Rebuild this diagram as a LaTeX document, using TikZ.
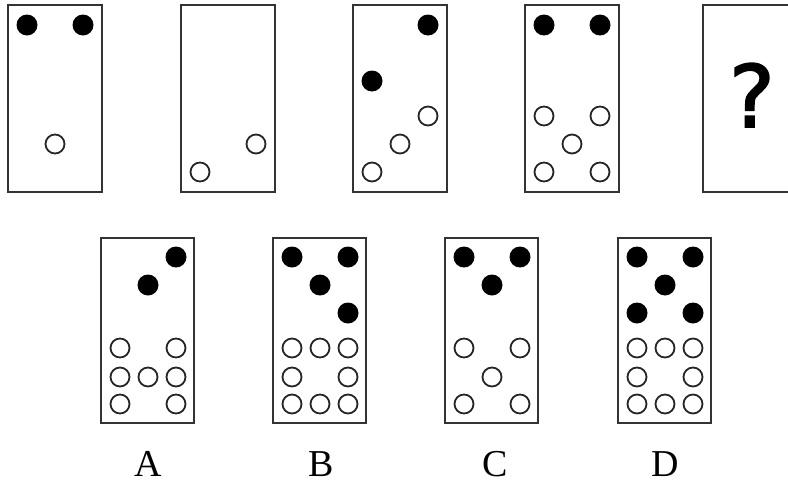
\documentclass[tikz,border=0pt]{standalone}
\usepackage{fontspec}
\setmainfont{Liberation Serif}
\newfontfamily\qfont[FakeBold=2]{DejaVu Sans}
\newcommand\pips[3]{%
  \foreach \c/\y [count=\i] in {#2}
    \node[bdot] (#1b\i) at ([shift={(19+28*\c,\y)}]#1.north west) {};
  \foreach \c/\y [count=\i] in {#3}
    \node[wdot] (#1w\i) at ([shift={(19+28*\c,\y)}]#1.north west) {};}
\begin{document}
\begin{tikzpicture}[x=1pt,y=-1pt,
  card/.style={draw=black!80, line width=1.9pt, minimum width=94pt,
    minimum height=187pt, anchor=north west, inner sep=0pt, outer sep=0pt},
  bdot/.style={circle, fill=black, minimum size=21pt, inner sep=0pt},
  wdot/.style={circle, draw=black!85, line width=1.8pt, fill=white,
    minimum size=19pt, inner sep=0pt},
  lbl/.style={font=\fontsize{38}{42}\selectfont, anchor=base, inner sep=0pt}]
\fill[white] (0,0) rectangle (788,482);
\useasboundingbox (0,0) rectangle (788,482);
% top row
\node[card] (t1) at (8,5) {};
\node[card] (t2) at (181,5) {};
\node[card] (t3) at (353,5) {};
\node[card] (t4) at (525,5) {};
\node[card] (t5) at (703,5) {};
\pips{t1}{0/20,2/20}{1/139}
\node[wdot] (t2w1) at ([shift={(19+28*2,139)}]t2.north west) {};
\node[wdot] (t2w2) at ([shift={(19,167)}]t2.north west) {};
\pips{t3}{2/20,0/76}{2/111,1/139,0/167}
\pips{t4}{0/20,2/20}{0/111,2/111,1/139,0/167,2/167}
\node[font=\qfont\fontsize{86}{90}\selectfont, anchor=base, inner sep=0pt] (q) at (752,127) {?};
% options
\node[card, minimum height=185pt, minimum width=93pt] (oa) at (101,238) {};
\node[card, minimum height=185pt, minimum width=93pt] (ob) at (273,238) {};
\node[card, minimum height=185pt, minimum width=93pt] (oc) at (445,238) {};
\node[card, minimum height=185pt, minimum width=93pt] (od) at (618,238) {};
\pips{oa}{2/19,1/47}{0/110,2/110,0/139,1/139,2/139,0/166,2/166}
\pips{ob}{0/19,2/19,1/47,2/75}{0/110,1/110,2/110,0/139,2/139,0/166,1/166,2/166}
\pips{oc}{0/19,2/19,1/47}{0/110,2/110,1/139,0/166,2/166}
\pips{od}{0/19,2/19,1/47,0/75,2/75}{0/110,1/110,2/110,0/139,2/139,0/166,1/166,2/166}
\node[lbl] (la) at (148,476) {A};
\node[lbl] (lb) at (321,476) {B};
\node[lbl] (lc) at (495,476) {C};
\node[lbl] (ld) at (665,476) {D};
\end{tikzpicture}
\end{document}
